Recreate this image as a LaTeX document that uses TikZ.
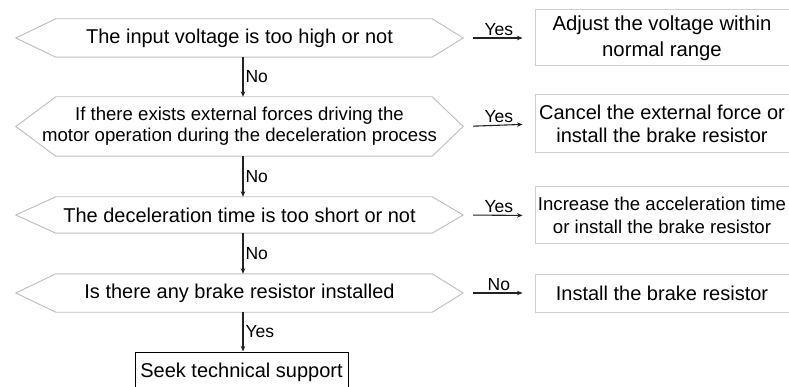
\documentclass[tikz,border=0pt]{standalone}
\usepackage{fontspec}
\setmainfont{Liberation Sans}
\usetikzlibrary{arrows.meta}
\definecolor{hexgray}{HTML}{BDBDBD}
\definecolor{boxgray}{HTML}{CFCFCF}
\definecolor{arrowdark}{HTML}{222222}
\begin{document}
\begin{tikzpicture}[x=1pt,y=-1pt,
  hexnode/.style={rectangle, inner sep=0pt, minimum width=447pt, align=center, font=\fontsize{20}{24}\selectfont},
  hexline/.style={draw=hexgray, line width=0.9pt},
  actbox/.style={rectangle, draw=boxgray, line width=1pt, minimum width=254pt, inner sep=0pt, align=center, font=\fontsize{20}{24}\selectfont},
  endbox/.style={rectangle, draw=black, line width=1pt, minimum width=213pt, minimum height=40pt, inner sep=0pt, font=\fontsize{20}{24}\selectfont},
  arr/.style={draw=arrowdark, line width=1.1pt, -{Stealth[length=5.5pt,width=4.5pt]}},
  harr/.style={arr, shorten <=10pt, shorten >=12pt},
  lbl/.style={font=\fontsize{17.5}{20}\selectfont, text=black, inner sep=2pt}]

\useasboundingbox (0,0) rectangle (789,387);
\clip (0,0) rectangle (789,387);
\fill[white] (0,0) rectangle (789,387);

% decisions
\node[hexnode, minimum height=38pt] (h1) at (239.5,38) {The input voltage is too high or not};
\node[hexnode, minimum height=59pt, font=\fontsize{18.6}{21}\selectfont] (h2) at (239.5,126.5) {If there exists external forces driving the\\motor operation during the deceleration process};
\node[hexnode, minimum height=36pt] (h3) at (239.5,215) {The deceleration time is too short or not};
\node[hexnode, minimum height=38pt] (h4) at (239.5,293) {Is there any brake resistor installed};

\foreach \n in {h1,h2,h3,h4}
  \draw[hexline] (\n.west) -- ([xshift=40pt]\n.north west) -- ([xshift=-31pt]\n.north east) -- (\n.east) -- ([xshift=-31pt]\n.south east) -- ([xshift=40pt]\n.south west) -- cycle;

% actions
\node[actbox, minimum height=56pt, font=\fontsize{20.3}{26}\selectfont] (b1) at (662,38) {Adjust the voltage within\\normal range};
\node[actbox, minimum height=58pt, font=\fontsize{20}{23}\selectfont] (b2) at (662,124) {Cancel the external force or\\install the brake resistor};
\node[actbox, minimum height=57pt, font=\fontsize{18.6}{23}\selectfont] (b3) at (662,215.5) {Increase the acceleration time\\or install the brake resistor};
\node[actbox, minimum height=38pt] (b4) at (662,293) {Install the brake resistor};
\node[endbox] (seek) at (241.5,372) {Seek technical support};

% vertical flow
\draw[arr] ([xshift=3.5pt]h1.south) -- node[lbl, right]{No} ([xshift=3.5pt]h2.north);
\draw[arr] ([xshift=3.5pt]h2.south) -- node[lbl, right]{No} ([xshift=3.5pt]h3.north);
\draw[arr] ([xshift=3.5pt]h3.south) -- node[lbl, right]{No} ([xshift=3.5pt]h4.north);
\draw[arr] ([xshift=3.5pt]h4.south) -- node[lbl, right]{Yes} ([xshift=3.5pt]h4.south |- seek.north);

% horizontal flow
\draw[harr] (h1.east) -- node[lbl, above]{Yes} (b1.west);
\draw[harr] (h2.east) -- node[lbl, above]{Yes} (b2.west);
\draw[harr] (h3.east) -- node[lbl, above]{Yes} (b3.west);
\draw[harr] (h4.east) -- node[lbl, above]{No} (b4.west);
\end{tikzpicture}
\end{document}
